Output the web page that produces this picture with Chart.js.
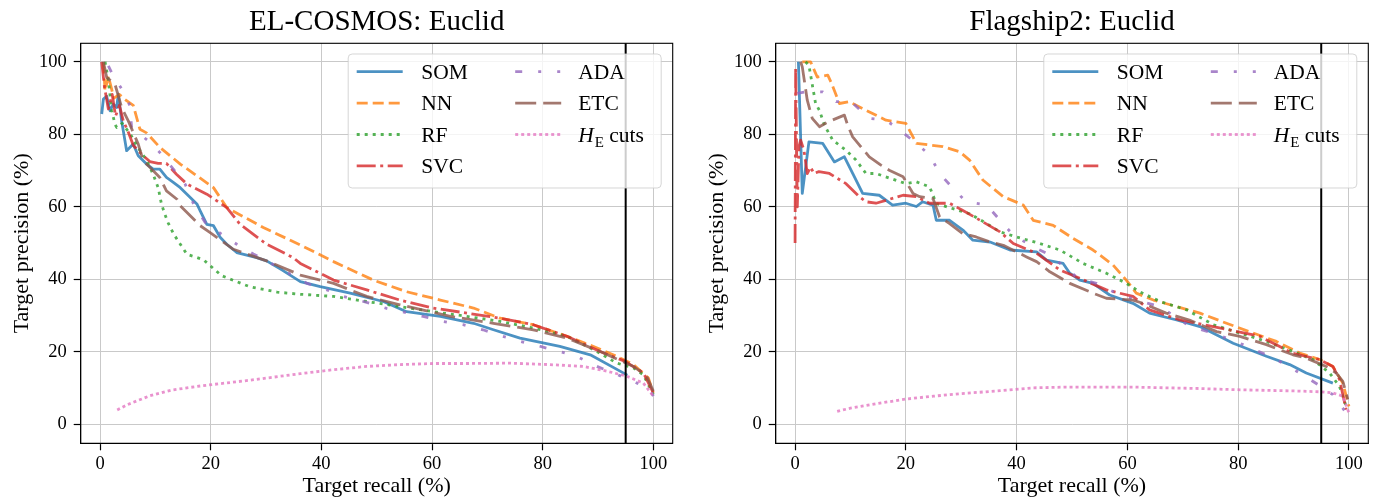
<!DOCTYPE html>
<html><head><meta charset="utf-8">
<script src="https://cdn.jsdelivr.net/npm/chart.js@4"></script>
<style>
html,body{margin:0;padding:0;background:#fff;}
#wrap{position:relative;width:1381px;height:499px;overflow:hidden;}
#c1{position:absolute;left:0;top:0;}
#c2{position:absolute;left:690px;top:0;}
</style></head><body>
<div id="wrap"><canvas id="c1" width="690" height="499"></canvas><canvas id="c2" width="691" height="499"></canvas></div>
<script>
// ---------- tick labels / names ----------
const xTickValues = [0, 20, 40, 60, 80, 100];
const yTickValues = [0, 20, 40, 60, 80, 100];
const seriesNames = ['SOM', 'NN', 'RF', 'SVC', 'ADA', 'ETC', 'HE cuts'];
const cutRecall = 95;

// ---------- EL-COSMOS: Euclid ----------
const cosmosSomX = [0.3,0.6,1.2,1.8,2.4,3.0,3.3,3.9,4.5,4.8,6.0,6.9,8.4,9.6,10.8,12.0,13.3,14.5,15.7,17.5,18.1,19.3,20.5,21.7,22.9,24.7,28.3,30.1,33,36.2,39.8,45.2,51.2,55.4,61.5,67.5,71.1,75.9,83.1,88.6,95.3];
const cosmosSomY = [85.6,89.7,90.5,86.5,88.3,87.4,91.1,83.7,78.2,75.5,77.3,74.1,71.8,70.4,70.4,68.1,66.7,65.3,63.5,60.8,58.9,55.2,54.8,51.6,49.7,47.4,46.0,45.1,42.5,39.4,38.0,36.2,33.9,31.1,29.8,27.9,26.1,23.8,21.5,19.2,13.6];
const cosmosNnX = [0.6,0.9,1.5,2.5,3.5,4.5,6.0,7.2,8.4,10.8,14.5,20.5,22.9,29.5,36.2,42.2,49.4,55.4,61.5,67.5,72.3,78.3,84.4,89.2,93.4,96.4,99.1,100];
const cosmosNnY = [99.8,92,96,90,91,89.6,88,81.4,80.4,76.4,71.8,65.3,59.8,54.3,49.5,44.9,39.8,36.6,34.3,32.1,29.3,27.5,24.3,21.5,18.8,16.5,12.8,8.7];
const cosmosRfX = [0.9,1.5,2.1,2.4,2.7,3.0,4.0,5.5,7.0,8.4,9.6,10.5,11.1,11.7,12.3,13.3,14.5,15.7,17.2,18.7,22,27,32,36.2,42.2,48.2,54.2,60.2,66.3,72.3,78.3,84.4,89.2,93.4,96.4,98.2,100];
const cosmosRfY = [100,95,86.5,84.7,82.8,81.9,83,80,76,72.9,69,65.3,60.8,58,55.6,52.5,49.7,46.9,46.2,45.4,41,38,36.5,35.9,35.3,33.9,32.5,31.1,29.8,28.4,26.6,24.3,20.6,16.9,15.6,13.7,8.2];
const cosmosSvcX = [0.3,0.8,1.5,2.2,2.8,3.5,4.2,5.0,6.0,7.5,9.0,10.5,12.0,13.8,15.7,19.3,22.9,25.3,30.1,34.9,36.2,42.2,48.2,54.2,60.2,66.3,72.3,78.3,84.4,90.4,94.9,98.2,100];
const cosmosSvcY = [100,93,87,91,85,88,83.7,81,77,74.5,72.5,72,72,69,66.3,63.5,59.8,55.2,49.7,46,44.4,39.8,37.1,34.3,32.1,30.7,29.3,27.5,24.3,20.1,17.4,14.2,8.7];
const cosmosAdaX = [1.5,2.1,3.9,5.4,5.7,8.7,10.8,13.5,15.4,16.9,19.0,22.0,24.7,27.7,30.1,37.4,41.0,44.0,47.6,51.8,58.4,62.0,65.6,69.2,72.8,75.9,79.6,83.1,86.1,89.8,92.8,96.4,99.4,100];
const cosmosAdaY = [98.9,97.0,92.5,87.9,81.9,78.2,75.0,69.9,66.2,60.8,55.7,52.4,49.7,47.0,45.1,38.9,37.1,35.3,33.9,32.0,29.8,28.4,27.5,26.1,24.3,22.9,21.5,20.1,18.8,16.0,14.2,11.9,9.6,7.8];
const cosmosEtcX = [0.6,1.2,2.7,3.9,5.1,6.9,7.8,9.0,10.8,12.0,13.9,14.5,18.1,19.9,24.1,30.1,36.2,42.2,48.2,54.2,63.3,71.1,78.3,84.4,90.4,96.4,98.8,100];
const cosmosEtcY = [100,95.7,93.8,87.4,83.7,77.3,72.7,70.9,68.1,64.4,62.1,60.3,54.8,52.9,48.3,45.1,41.2,38.9,35.3,33.0,29.8,27.9,26.1,23.8,20.1,16.0,13.3,9.2];
const cosmosHeX = [3.1,5,9,13,18.1,27.1,36.2,42.2,48.2,54.2,60.2,66.3,74.1,81.3,87.3,91.6,95.2,98.2,100];
const cosmosHeY = [4.0,5.5,7.9,9.5,10.6,12.2,14.0,15.1,16.0,16.5,16.8,16.8,16.9,16.5,16.0,14.7,13.3,11.4,7.8];

// ---------- Flagship2: Euclid ----------
const flagSomX = [0.6,1.3,2.5,5.0,7.1,8.9,10.4,12.2,15.2,17.6,20.0,21.9,23.0,24.9,25.5,27.9,30.3,32.1,35.2,38.8,43.6,45.4,48.4,49.6,51.4,53.8,56.8,61.0,64.0,68.9,73.1,79.1,85.1,89.3,92.3,97.1];
const flagSomY = [100,63.7,77.9,77.5,72.4,73.8,69.2,63.7,63.2,60.5,61.0,60.1,61.4,60.5,56.3,56.3,53.6,50.8,50.3,48.1,47.6,45.3,44.4,41.7,39.8,38.9,35.7,33.4,30.7,28.8,27.0,22.4,18.8,16.5,14.2,11.4];
const flagNnX = [1.3,2.8,4.0,5.9,6.6,8.0,9.8,12.2,16.4,20.0,21.9,26.7,29.7,31.5,33.9,37.6,41.2,43.0,46.6,50.2,53.8,57.4,59.8,61.6,64.7,68.9,73.1,77.9,82.7,86.9,91.1,94.7,97.1,98.9,100];
const flagNnY = [100,100,95.8,96.3,94.0,88.5,89.0,87.1,83.9,83.0,77.5,76.6,75.2,72.9,67.4,62.8,60.5,56.3,54.9,51.3,48.1,44.0,39.8,36.2,34.3,32.5,30.7,27.9,25.2,22.9,19.7,17.9,16.0,11.4,5.0];
const flagRfX = [1.9,2.5,3.7,4.4,5.3,6.8,9.2,11.0,12.8,14.6,20.0,21.9,24.3,25.5,28.5,31.5,34.6,37.0,40.0,44.2,47.8,52.0,56.2,59.8,62.2,65.9,70.7,75.5,80.3,85.1,89.9,93.5,96.5,98.3,99.5];
const flagRfY = [100,99,88.5,86.6,82.5,78.4,75.6,72.9,69.2,69.2,66.4,66.9,65.5,60.9,59.5,58.1,55.4,53.1,51.7,49.9,48.1,44.4,41.7,38.9,36.6,33.9,31.6,27.5,25.2,22.9,20.1,17.9,14.2,10.5,5.0];
const flagSvcX = [0,0.1,0.4,0.7,1.0,1.6,2.2,2.8,3.4,4.3,6.2,9.2,11.6,12.8,14.6,16.4,19.5,21.9,24.3,27.9,30.3,33.4,37.0,39.4,43.6,47.8,51.4,56.2,61.0,64.0,69.5,75.5,83.9,89.9,94.7,97.1,98.3,99.5];
const flagSvcY = [50,98.6,60,76.6,78.4,75.6,69.2,71,69.2,69.7,69.2,66.4,62.8,61.4,61.0,61.8,63.2,62.8,61.0,61.0,59.0,56.3,53.1,49.9,47.2,42.6,40.3,37.1,35.3,31.6,28.8,27.0,24.3,19.6,17.9,16.0,12.4,4.1];
const flagAdaX = [0.4,1.9,5.0,7.4,10.1,13.4,16.4,18.9,21.9,24.3,26.1,28.5,30.9,34.6,37.0,39.4,42.4,46.0,51.1,54.4,58.0,61.6,65.9,71.3,75.5,80.9,85.1,88.1,91.1,94.4,97.1,99.5];
const flagAdaY = [91.3,91.7,91.7,89.0,89.0,84.4,83.9,81.2,77.5,74.3,69.2,65.1,61.4,60.5,56.3,52.2,49.5,46.7,40.3,38.9,36.2,34.3,32.5,27.0,25.2,22.0,19.2,16.9,14.2,11.0,8.2,3.2];
const flagEtcX = [1.0,1.3,2.2,3.1,4.4,5.9,8.9,9.5,10.4,13.4,15.5,17.0,19.5,21.3,22.5,24.9,26.1,27.9,30.3,32.7,35.2,37.6,41.8,43.6,46.0,49.6,53.8,56.2,61.0,62.8,67.0,71.2,76.1,80.3,85.1,89.9,92.3,95.9,97.7,98.9,99.8];
const flagEtcY = [100,98.6,89.4,84.4,82.1,83.4,85.3,82.5,79.3,73.8,71.5,70.1,68.3,63.7,62.8,62.3,57.2,55.4,52.6,51.7,50.3,49.4,46.2,44.9,42.1,38.9,36.2,34.8,34.3,33.4,30.7,28.8,25.6,24.3,22.0,19.2,18.3,16.0,14.2,11.9,6.9];
const flagHeX = [7.6,10,15,20,25,30,37,43,49,55,61,67,73.1,79.1,85.1,91.1,94.7,97.1,98.9,100];
const flagHeY = [3.6,4.5,5.8,7.0,7.8,8.5,9.3,10.1,10.3,10.3,10.3,10.1,9.9,9.6,9.4,9.2,9.0,8.7,7.8,3.2];

// ---------- styles ----------
const SERIF = "'Liberation Serif', 'DejaVu Serif', serif";
const seriesStyles = [
  {color:'rgba(31,119,180,0.8)',  dash:[],            width:2.8},
  {color:'rgba(255,127,14,0.8)',  dash:[11,5],        width:2.8},
  {color:'rgba(44,160,44,0.8)',   dash:[3,5],         width:2.8},
  {color:'rgba(214,39,40,0.8)',   dash:[19,4.5,3,4.5],width:2.8},
  {color:'rgba(148,103,189,0.8)', dash:[7,16,3,16,3,16], width:2.8},
  {color:'rgba(140,86,75,0.8)',   dash:[21,7],        width:2.8},
  {color:'rgba(227,119,194,0.8)', dash:[3,3],         width:2.8}
];

const zip = (xs, ys) => xs.map((v, i) => ({x: v, y: ys[i]}));

const deco = {
  id: 'deco',
  afterDatasetsDraw(chart) {
    const {ctx, chartArea: a, scales} = chart;
    const px = scales.x.getPixelForValue(cutRecall);
    ctx.save();
    ctx.strokeStyle = '#000'; ctx.lineWidth = 2;
    ctx.beginPath(); ctx.moveTo(px, a.top); ctx.lineTo(px, a.bottom); ctx.stroke();
    ctx.restore();
  },
  afterDraw(chart) {
    const {ctx, chartArea: a} = chart;
    ctx.save();
    ctx.strokeStyle = '#000'; ctx.lineWidth = 1.1;
    ctx.strokeRect(a.left, a.top, a.right - a.left, a.bottom - a.top);
    // legend
    const w = 313, h = 134;
    const bx = a.right - 11.5 - w, by = a.top + 10.7;
    const r = 4;
    ctx.beginPath();
    ctx.moveTo(bx + r, by); ctx.lineTo(bx + w - r, by); ctx.arcTo(bx + w, by, bx + w, by + r, r);
    ctx.lineTo(bx + w, by + h - r); ctx.arcTo(bx + w, by + h, bx + w - r, by + h, r);
    ctx.lineTo(bx + r, by + h); ctx.arcTo(bx, by + h, bx, by + h - r, r);
    ctx.lineTo(bx, by + r); ctx.arcTo(bx, by, bx + r, by, r); ctx.closePath();
    ctx.fillStyle = 'rgba(255,255,255,0.8)'; ctx.fill();
    ctx.strokeStyle = 'rgba(204,204,204,0.8)'; ctx.lineWidth = 1; ctx.stroke();
    seriesNames.forEach((name, i) => {
      const col = i < 4 ? 0 : 1, row = i < 4 ? i : i - 4;
      const cy = by + 17.7 + row * 31.4;
      const lx = bx + (col ? 167 : 8.5), tx = bx + (col ? 230 : 73);
      const st = seriesStyles[i];
      ctx.save();
      ctx.strokeStyle = st.color; ctx.lineWidth = st.width; ctx.setLineDash(st.dash); ctx.lineCap = 'butt';
      ctx.beginPath(); ctx.moveTo(lx, cy); ctx.lineTo(lx + 46, cy); ctx.stroke();
      ctx.restore();
      ctx.fillStyle = '#000'; ctx.textBaseline = 'alphabetic'; ctx.textAlign = 'left';
      const base = cy + 7.3;
      if (name === 'HE cuts') {
        ctx.font = 'italic 21.5px ' + SERIF;
        ctx.fillText('H', tx, base);
        let x = tx + ctx.measureText('H').width + 1;
        ctx.font = '15px ' + SERIF;
        ctx.fillText('E', x, base + 5);
        x += ctx.measureText('E').width;
        ctx.font = '21.5px ' + SERIF;
        ctx.fillText(' cuts', x, base);
      } else {
        ctx.font = '21.5px ' + SERIF;
        ctx.fillText(name, tx, base);
      }
    });
    ctx.restore();
  }
};

function makeChart(id, title, series, cfg) {
  const datasets = series.map((s, i) => ({
    label: seriesNames[i],
    data: zip(s[0], s[1]),
    borderColor: seriesStyles[i].color,
    borderWidth: seriesStyles[i].width,
    borderDash: seriesStyles[i].dash,
    borderCapStyle: 'butt',
    borderJoinStyle: 'round',
    pointRadius: 0, fill: false, tension: 0,
    order: series.length - i
  }));
  const axisCommon = {
    type: 'linear', min: -3.5, max: 103.5,
    grid: {color: '#c9c9c9', lineWidth: 1, tickColor: '#000', tickLength: 7, tickWidth: 1.2},
    border: {display: true, color: '#000', width: 1.1}
  };
  return new Chart(document.getElementById(id), {
    type: 'line',
    data: {datasets},
    options: {
      responsive: false, animation: false, events: [],
      layout: {padding: {left: 0, right: cfg.padRight, top: 0, bottom: 0}},
      plugins: {
        legend: {display: false}, tooltip: {enabled: false},
        title: {display: true, text: title, fullSize: false, color: '#000',
          font: {family: SERIF, size: 29, weight: 'normal'}, padding: {top: 4.6, bottom: 3.9}}
      },
      scales: {
        x: Object.assign({}, axisCommon, {
          afterBuildTicks: ax => { ax.ticks = xTickValues.map(v => ({value: v})); },
          afterFit: ax => { ax.height = 55.7; },
          ticks: {color: '#000', font: {family: SERIF, size: 18.5}, padding: 3, maxRotation: 0, autoSkip: false},
          title: {display: true, text: 'Target recall (%)', color: '#000', font: {family: SERIF, size: 22}, padding: {top: 0, bottom: 0}}
        }),
        y: Object.assign({}, axisCommon, {
          min: -5.2, max: 105.1,
          afterBuildTicks: ax => { ax.ticks = yTickValues.map(v => ({value: v})); },
          afterFit: ax => { ax.width = cfg.yWidth; },
          ticks: {color: '#000', font: {family: SERIF, size: 18.5}, padding: 7, autoSkip: false},
          title: {display: true, text: 'Target precision (%)', color: '#000', font: {family: SERIF, size: 22}, padding: {top: cfg.yTitlePad, bottom: 0}}
        })
      }
    },
    plugins: [deco]
  });
}

makeChart('c1', 'EL-COSMOS: Euclid', [
  [cosmosSomX, cosmosSomY], [cosmosNnX, cosmosNnY], [cosmosRfX, cosmosRfY], [cosmosSvcX, cosmosSvcY],
  [cosmosAdaX, cosmosAdaY], [cosmosEtcX, cosmosEtcY], [cosmosHeX, cosmosHeY]
], {padRight: 17.3, yWidth: 80.7, yTitlePad: 8.8});

makeChart('c2', 'Flagship2: Euclid', [
  [flagSomX, flagSomY], [flagNnX, flagNnY], [flagRfX, flagRfY], [flagSvcX, flagSvcY],
  [flagAdaX, flagAdaY], [flagEtcX, flagEtcY], [flagHeX, flagHeY]
], {padRight: 12.7, yWidth: 85.7, yTitlePad: 13.8});
</script>
</body></html>
